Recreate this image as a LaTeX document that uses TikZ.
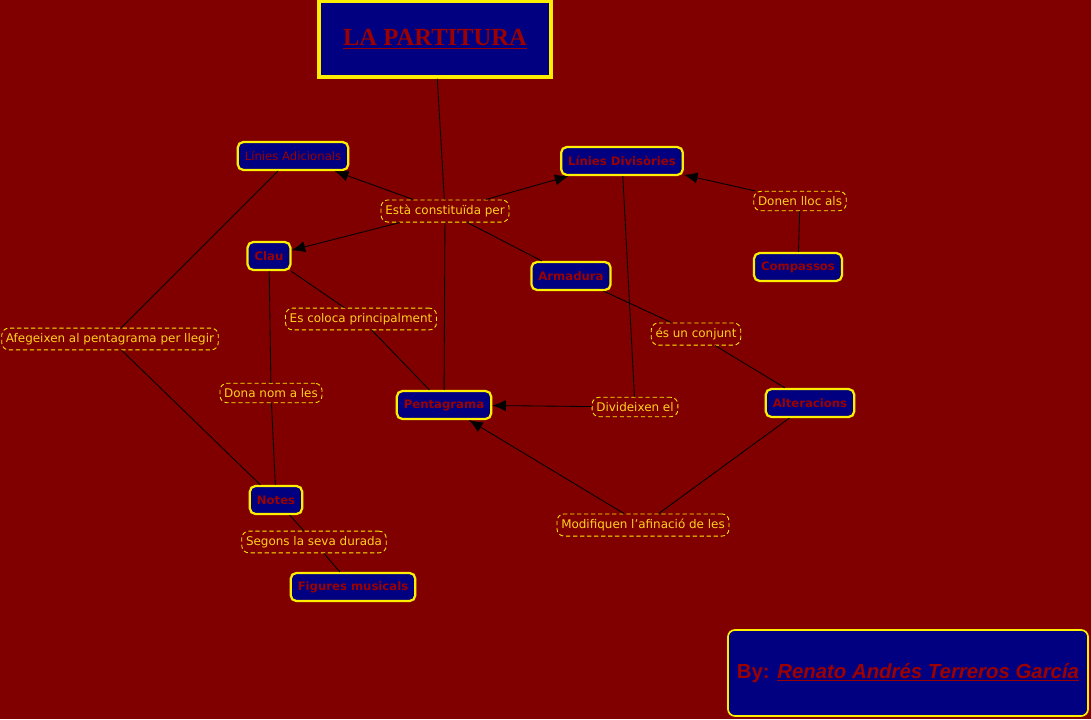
\documentclass[tikz,border=0pt]{standalone}
\usepackage{fontspec}
\setmainfont{DejaVu Sans}
\newfontfamily\titlefont{Liberation Serif}
\newfontfamily\byfont{Liberation Sans}
\usetikzlibrary{arrows.meta}

\definecolor{bgred}{HTML}{800000}
\definecolor{navy}{HTML}{000080}
\definecolor{cyellow}{HTML}{FFEE00}
\definecolor{ltext}{HTML}{FFD21E}
\definecolor{ctext}{HTML}{9C0000}

\begin{document}
\begin{tikzpicture}[
    x=0.025cm, y=-0.025cm,
    every node/.style={font=\fontsize{8.5}{10}\selectfont},
    concept/.style={draw=cyellow, fill=navy, line width=1.6pt, rounded corners=4pt,
        text=ctext, font=\fontsize{8.3}{10}\selectfont\bfseries,
        minimum height=0.7cm, inner xsep=5pt},
    link/.style={draw=cyellow, fill=bgred, dash pattern=on 3pt off 2pt, line width=0.6pt,
        rounded corners=5pt, text=ltext, inner xsep=3pt, inner ysep=3.6pt},
    conn/.style={line width=0.6pt, black},
    arrow/.style={conn, -{Latex[length=3.4mm, width=2.8mm]}}
]

    % ---- Background ----
    \fill[bgred] (0,0) rectangle (1091,719);
    \useasboundingbox (0,0) rectangle (1091,719);

    % ---- Title ----
    \node[draw=cyellow, fill=navy, line width=2.4pt, minimum width=5.8cm, minimum height=1.9cm,
        text=ctext, font=\titlefont\fontsize{17.5}{20}\selectfont\bfseries]
        (title) at (435,39) {\underline{LA PARTITURA}};

    % ---- Concepts ----
    \node[concept, font=\fontsize{8.3}{10}\selectfont] (adic) at (293,156) {Línies Adicionals};
    \node[concept] (divis) at (622,161) {Línies Divisòries};
    \node[concept] (clau) at (269,256) {Clau};
    \node[concept] (arm) at (571,276) {Armadura};
    \node[concept] (comp) at (798,267) {Compassos};
    \node[concept] (penta) at (444,405) {Pentagrama};
    \node[concept] (alter) at (810,403) {Alteracions};
    \node[concept] (notes) at (276,500) {Notes};
    \node[concept] (figs) at (353,587) {Figures musicals};

    % ---- Linking phrases ----
    \node[link] (const) at (445,211) {Està constituïda per};
    \node[link] (donen) at (800,201) {Donen lloc als};
    \node[link] (coloca) at (361,319) {Es coloca principalment};
    \node[link] (afeg) at (110,339) {Afegeixen al pentagrama per llegir};
    \node[link] (conjunt) at (696,334) {és un conjunt};
    \node[link] (nom) at (271,393) {Dona nom a les};
    \node[link] (divid) at (635,407) {Divideixen el};
    \node[link] (modif) at (643,525) {Modifiquen l'afinació de les};
    \node[link] (durada) at (314,542) {Segons la seva durada};

    % ---- Author ----
    \node[draw=cyellow, fill=navy, line width=1.2pt, rounded corners=5pt,
        minimum width=9cm, minimum height=2.15cm, text=ctext,
        font=\byfont\fontsize{14.5}{16}\selectfont\bfseries]
        (by) at (908,673) {By: \underline{\textit{Renato Andrés Terreros García}}};

    % ---- Connections ----
    \draw[conn] (title) -- (const);
    \draw[conn] (const) -- (penta);
    \draw[arrow] (const) -- (adic);
    \draw[arrow] (const) -- (clau);
    \draw[arrow] (const) -- (divis);
    \draw[conn] (const) -- (arm);
    \draw[conn] (comp) -- (donen);
    \draw[arrow] (donen) -- (divis);
    \draw[conn] (adic) -- (afeg);
    \draw[conn] (afeg) -- (notes);
    \draw[conn] (clau) -- (coloca);
    \draw[conn] (coloca) -- (penta);
    \draw[conn] (clau) -- (nom);
    \draw[conn] (nom) -- (notes);
    \draw[conn] (divis) -- (divid);
    \draw[arrow] (divid) -- (penta);
    \draw[conn] (arm) -- (conjunt);
    \draw[conn] (conjunt) -- (alter);
    \draw[conn] (alter) -- (modif);
    \draw[arrow] (modif) -- (penta);
    \draw[conn] (notes) -- (durada);
    \draw[conn] (durada) -- (figs);

\end{tikzpicture}
\end{document}
